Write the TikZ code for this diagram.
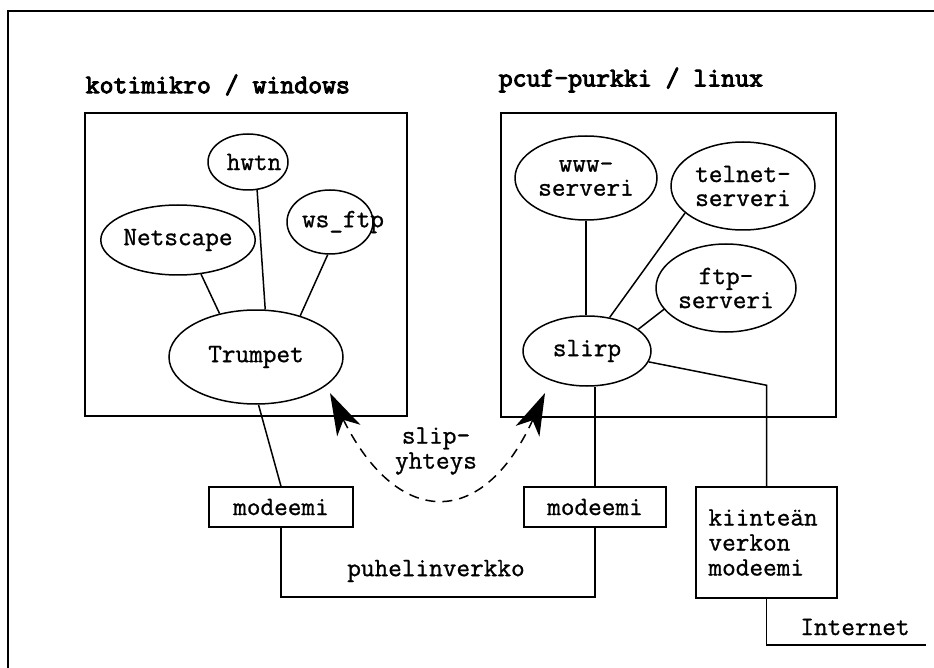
\documentclass[tikz,border=0pt]{standalone}
\usepackage{fontspec}
\setmainfont{Latin Modern Mono}[FakeBold=1]
\newfontfamily\ttlfont{Latin Modern Mono}[FakeBold=3.5]
\usetikzlibrary{shapes.geometric,arrows.meta}
\begin{document}
\begin{tikzpicture}[x=1pt,y=-1pt, line width=1.5pt,
  font=\fontsize{26.5}{24}\selectfont\bfseries,
  ell/.style={draw, ellipse, inner sep=0pt, align=center},
  boxn/.style={draw, rectangle, inner sep=0pt},
  ttl/.style={font=\fontsize{27}{28}\selectfont\ttlfont, anchor=west, inner sep=0pt},
  lbl/.style={inner sep=0pt, align=center},
  conn/.style={draw, line width=1.5pt},
  slipline/.style={draw, line width=1.5pt, dash pattern=on 10pt off 7pt, <->,
    >={Stealth[length=42pt,width=26pt,inset=12pt]}}]
\useasboundingbox (0,0) rectangle (934,668);
% outer frame
\coordinate (fa) at (934,11);
\coordinate (fb) at (8,11);
\coordinate (fc) at (8,668);
\draw (fa) -- (fb) -- (fc);

% titles
\node[ttl] (t1) at (85,85) {kotimikro / windows};
\node[ttl] (t2) at (498,80) {pcuf-purkki / linux};

% computer boxes
\node[boxn, minimum width=322pt, minimum height=303pt] (winbox) at (246,264.5) {};
\node[boxn, minimum width=335pt, minimum height=304pt] (linbox) at (668.5,265) {};

% left ellipses
\node[ell, minimum width=80pt, minimum height=56pt] (hwtn) at (248,162) {\makebox[0pt]{\hspace*{12pt}hwtn}};
\node[ell, minimum width=140pt, minimum height=70pt] (net) at (178,240) {Netscape};
\node[ell, minimum width=86pt, minimum height=64pt] (wsftp) at (330,222) {\makebox[0pt]{\hspace*{26pt}ws\_ftp}};
\node[ell, minimum width=174pt, minimum height=94pt] (trump) at (256,357) {Trumpet};

% right ellipses
\node[ell, minimum width=142pt, minimum height=84pt] (www) at (586,178) {www-\\serveri};
\node[ell, minimum width=144pt, minimum height=88pt] (telnet) at (743,186) {telnet-\\serveri};
\node[ell, minimum width=140pt, minimum height=88pt] (ftp) at (726,288) {ftp-\\serveri};
\node[ell, minimum width=128pt, minimum height=70pt] (slirp) at (587,351) {slirp};

% modems
\node[boxn, minimum width=144pt, minimum height=40pt] (mL) at (281,507) {modeemi};
\node[boxn, minimum width=142pt, minimum height=40pt] (mR) at (595,507) {modeemi};
\node[boxn, minimum width=141pt, minimum height=111pt, text width=116pt, align=left,
  font=\fontsize{26.5}{25}\selectfont] (kiin) at (766.5,542.5) {kiinteän\\verkon\\modeemi};

% labels
\node[lbl, font=\fontsize{26.5}{25}\selectfont] (slip) at (436,451) {slip-\\yhteys};
\node[lbl] (puh) at (436,571) {puhelinverkko};
\node[lbl] (inettxt) at (855,627) {Internet};

% connectors left
\draw[conn] (net.-56) -- (trump.130);
\draw[conn] (hwtn.-72) -- (trump.79);
\draw[conn] (wsftp.-94) -- (trump.43);
\draw[conn] (trump.-87) -- (mL.north);

% connectors right
\draw[conn] (www.south) -- (slirp.north -| www.south);
\draw[conn] (telnet.205) -- (slirp.56);
\draw[conn] (ftp.199) -- (slirp.23);
\draw[conn] (slirp.-10) -- ([yshift=101pt]kiin.north) -- (kiin.north);
\draw[conn] (mR.north) -- (slirp.south -| mR.north);

% telephone network
\coordinate (pl) at (281,597);
\coordinate (pr) at (595,597);
\draw[conn] (mL.south) -- (mL.south |- pl) -- (mR.south |- pr) -- (mR.south);

% internet
\coordinate (inet) at (926,645);
\draw[conn] (kiin.south) -- (kiin.south |- inet) -- (inet);

% slip connection
\coordinate (sa) at (330,393);
\coordinate (sb) at (545,393);
\draw[slipline] (sa) .. controls (398,529) and (483,529) .. (sb);
\end{tikzpicture}
\end{document}
